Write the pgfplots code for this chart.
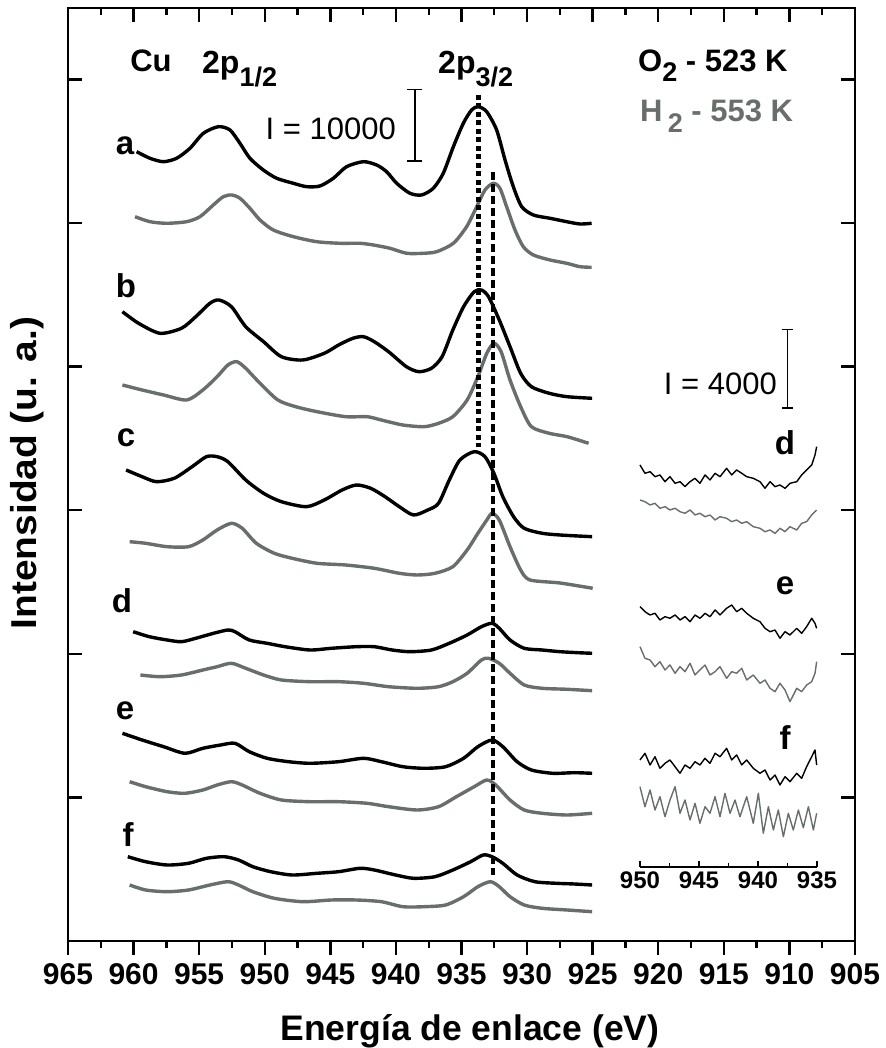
\documentclass[border=0pt]{standalone}
\usepackage{pgfplots}
\pgfplotsset{compat=1.18}
\usepackage{fontspec}
\setmainfont{Liberation Sans}
\usetikzlibrary{arrows.meta}
\definecolor{cgray}{RGB}{104,110,106}
\pgfplotsset{
  mainframe/.style={at={(68pt,107pt)}, anchor=south west, scale only axis,
    width=787pt, height=933pt, xmin=905, xmax=965, ymin=0, ymax=933, x dir=reverse,
    axis line style={line width=2.6pt}, tick style={line width=2.4pt, black},
    major tick length=14pt, minor tick length=7pt, clip=false},
  blk/.style={black, line width=3.4pt, line join=round, no marks, smooth, tension=0.45},
  gry/.style={cgray, line width=3.4pt, line join=round, no marks, smooth, tension=0.45},
  iblk/.style={black, line width=1.4pt, line join=round, no marks},
  igry/.style={cgray, line width=1.4pt, line join=round, no marks},
}
\newcommand{\bigb}{\fontsize{30}{30}\selectfont\bfseries}
\newcommand{\lab}{\fontsize{33}{33}\selectfont\bfseries}
\begin{document}
\begin{tikzpicture}[x=1pt,y=1pt]
\path[use as bounding box] (0,0) rectangle (885,1048);

% Axis A: frame and bottom ticks (outward) with labels
\begin{axis}[mainframe,
  xtick={905,910,...,965}, minor x tick num=1, xtick pos=left, tick align=outside,
  ytick=\empty,
  xticklabel style={font=\bigb, /pgf/number format/assume math mode=true, yshift=-5pt},
]
\addplot[draw=none] coordinates {(930,10)};
\end{axis}

% Axis B: top ticks and y ticks inward, data
\begin{axis}[mainframe,
  xtick={905,910,...,965}, minor x tick num=1, xtick pos=right, tick align=inside,
  ytick={143.6,287.2,430.8,574.4,718,861.6}, ytick pos=both,
  xticklabels=\empty, yticklabels=\empty,
]
% a
\addplot[blk] coordinates {(959.77,789.3)(958.75,782.7)(957.73,779.3)(956.72,782.7)(955.70,792.7)(954.68,807.7)(953.54,814.3)(952.65,811)(951.89,797.7)(951.13,782.7)(950.11,771)(949.09,762.7)(947.82,757.7)(946.80,754.3)(945.79,755)(944.77,762.7)(943.76,774.3)(942.48,779.3)(941.47,776)(940.71,769.3)(939.94,757.7)(938.93,747.7)(938.04,746)(937.15,752.7)(936.39,767.7)(935.62,794.3)(934.86,817.7)(934.23,831)(933.72,834.3)(933.08,829.3)(932.32,811)(931.68,781)(931.05,754.3)(930.41,734.3)(929.52,726)(928.25,722.7)(926.98,719.3)(925.97,717)(925.08,717.7)};
\addplot[gry] coordinates {(959.89,724.3)(958.75,719.3)(957.48,717.7)(955.95,719.3)(954.94,724.3)(953.92,736)(953.16,744.3)(952.52,746)(951.89,742.7)(951.13,732.7)(950.36,721)(949.35,711)(947.82,704.3)(946.04,699.3)(944.26,697.7)(942.74,697.7)(941.72,696)(940.45,692.7)(939.18,687.7)(937.91,687.7)(936.89,689.3)(935.62,697.7)(934.61,714.3)(933.84,734.3)(933.21,751)(932.57,757.7)(932.07,752.7)(931.56,734.3)(930.92,711)(930.29,694.3)(929.52,686)(928.25,681)(926.98,677.7)(925.97,674.3)(925.08,673.7)};
% b
\addplot[blk] coordinates {(960.85,629.3)(959.62,617.7)(957.99,607.7)(956.35,612.7)(955.26,624.3)(954.18,637.7)(953.49,641)(952.54,634.3)(951.45,614.3)(950.09,599.3)(948.73,584.3)(947.10,581)(945.46,587.7)(944.37,596)(943.28,602.7)(942.47,604.3)(941.65,599.3)(940.56,589.3)(939.20,574.3)(938.25,569.3)(937.29,572.7)(936.48,584.3)(935.66,611)(934.84,634.3)(934.03,649.3)(933.48,651)(932.94,644.3)(932.12,621)(931.30,594.3)(930.49,567.7)(929.67,554.3)(928.31,547.7)(926.95,544.3)(925.04,542.7)};
\addplot[gry] coordinates {(960.85,556)(959.35,551)(957.71,546)(955.94,541)(954.72,551)(953.63,564.3)(952.81,576)(952.13,579.3)(951.45,572.7)(950.36,557.7)(949.00,541)(947.64,534.3)(946.01,529.3)(943.83,524.3)(942.20,524.3)(941.11,521)(939.47,516)(937.84,514.3)(936.75,517.7)(935.66,524.3)(934.57,541)(933.75,564.3)(933.07,587.7)(932.53,597.7)(931.98,589.3)(931.30,561)(930.49,534.3)(929.67,514.3)(928.31,507.7)(926.95,504.3)(925.31,497.7)};
% c
\addplot[blk] coordinates {(960.57,471)(959.35,464.3)(958.26,459.3)(956.90,462.7)(955.54,474.3)(954.45,484.3)(953.63,484.3)(952.81,479.3)(951.45,461)(950.09,447.7)(948.73,439.3)(946.82,434.3)(945.46,441)(944.10,451)(943.01,456)(941.92,452.7)(940.83,444.3)(939.74,434.3)(938.66,426)(937.57,431)(936.75,437.7)(935.93,461)(935.12,481)(934.03,489.3)(933.21,484.3)(932.53,467.7)(931.85,444.3)(931.03,424.3)(930.22,412.7)(928.85,407.7)(927.49,406)(926.13,405)(925.04,404.3)};
\addplot[gry] coordinates {(960.30,399.3)(959.08,397.7)(957.44,394.3)(955.81,394.3)(954.72,401)(953.63,411)(952.54,417.7)(951.72,412.7)(950.64,397.7)(949.27,387.7)(947.91,382.7)(946.01,377.7)(943.83,376)(941.65,372.7)(939.74,367.7)(938.38,366)(937.02,367.7)(935.66,374.3)(934.57,391)(933.75,407.7)(933.07,421)(932.67,427.7)(932.12,421)(931.30,394.3)(930.49,371)(929.78,361)(927.49,358)(925.0,352.7)};
% d
\addplot[blk] coordinates {(960.03,309.3)(958.80,304.3)(957.44,301)(956.35,299.3)(955.26,302.7)(953.90,307.7)(952.81,311)(952.27,309.3)(951.18,301)(949.82,297.7)(948.46,294.3)(946.55,291)(944.92,292.7)(943.01,294.3)(941.65,294.3)(940.29,291)(938.93,289.3)(937.29,291)(935.93,297.7)(934.57,306)(933.48,314.3)(932.67,317.7)(932.12,312.7)(931.30,301)(930.22,292.7)(928.85,291)(927.49,289.3)(926.13,288.3)(925.04,287.7)};
\addplot[gry] coordinates {(959.48,266)(957.99,264.3)(956.35,266)(954.72,271)(953.63,274.3)(952.54,277.7)(951.45,272.7)(950.09,266)(948.73,261)(946.55,259.3)(944.37,259.3)(942.47,257.7)(940.56,254.3)(938.38,252.7)(936.75,254.3)(935.66,259.3)(934.57,267.7)(933.48,281)(932.94,282.7)(932.12,277.7)(931.30,267.7)(930.22,256)(928.85,252.7)(926.95,251.7)(925.04,250.3)};
% e
\addplot[blk] coordinates {(960.85,207.7)(959.35,201)(957.71,194.3)(956.08,187.7)(954.72,192.7)(953.36,196)(952.27,197.7)(951.18,189.3)(949.82,182.7)(948.19,179.3)(946.55,177.7)(944.37,179.3)(942.47,182.7)(941.11,179.3)(939.47,174.3)(937.84,172.7)(936.21,174.3)(934.84,182.7)(933.75,194.3)(932.67,201)(931.85,194.3)(930.76,179.3)(929.67,171)(928.04,167.7)(926.40,168.3)(925.04,167.7)};
\addplot[gry] coordinates {(960.30,159.3)(959.08,154.3)(957.44,149.3)(956.08,147.7)(954.72,151)(953.63,156)(952.54,159.3)(951.72,156)(950.36,147.7)(948.73,141)(946.55,139.3)(944.37,139.3)(942.20,137.7)(940.56,134.3)(938.38,131)(936.75,134.3)(935.39,144.3)(934.03,154.3)(933.07,161)(932.39,156)(931.30,141)(930.22,131)(928.85,127.7)(926.95,126)(925.04,127.7)};
% f
\addplot[blk] coordinates {(960.44,84.3)(959.08,79.3)(957.44,76)(955.81,77.7)(954.45,82.7)(953.09,84.3)(952.00,81)(950.91,74.3)(949.55,69.3)(947.91,66)(946.01,67.7)(944.37,69.3)(942.74,72.7)(941.65,71)(940.02,66)(938.66,62.7)(937.02,64.3)(935.66,71)(934.30,79.3)(933.35,86)(932.67,84.3)(931.85,77.7)(930.76,66)(929.40,59.3)(927.76,57.7)(926.40,57)(925.04,56)};
\addplot[gry] coordinates {(960.30,56)(959.08,51)(957.44,49.3)(955.81,51)(954.18,56)(952.81,59.3)(952.00,56)(950.91,49.3)(949.27,42.7)(947.10,39.3)(944.92,41)(943.01,41)(941.11,39.3)(939.47,34.3)(937.84,34.3)(936.21,36)(934.84,44.3)(933.75,54.3)(932.80,59.3)(932.12,54.3)(931.30,44.3)(930.22,36)(928.85,32.7)(926.95,31)(925.04,29.3)};
% peak position lines
\addplot[black, line width=4.5pt, dash pattern=on 5pt off 3.5pt, no marks] coordinates {(933.72,846)(933.72,494)};
\addplot[black, line width=4.5pt, dash pattern=on 8pt off 4pt, no marks] coordinates {(932.58,769)(932.58,66)};
% scale bar
\draw[line width=1.5pt, {Bar[width=15pt]}-{Bar[width=15pt]}] (axis cs:938.55,779) -- (axis cs:938.55,852);
\end{axis}

% inset
\begin{axis}[at={(640pt,181pt)}, anchor=south west, scale only axis, width=177pt, height=447pt,
  xmin=935, xmax=950, ymin=0, ymax=447, x dir=reverse,
  axis x line*=bottom, axis y line=none, axis line style={-, line width=1.3pt},
  xtick={935,940,945,950}, minor x tick num=1, tick align=inside,
  tick style={line width=1.3pt, black}, major tick length=6pt, minor tick length=3.5pt,
  xticklabel style={font=\fontsize{24}{24}\selectfont\bfseries, /pgf/number format/assume math mode=true, yshift=-1pt},
  clip=false]
\addplot[iblk] coordinates {(950.00,402)(949.58,393.7)(949.15,395.3)(948.73,390.3)(948.31,392)(947.88,385.3)(947.46,390.3)(947.03,383.7)(946.61,385.3)(946.19,380.3)(945.76,385.3)(945.34,388.7)(944.92,383.7)(944.49,392)(944.07,387)(943.64,393.7)(943.22,390.3)(942.66,398.7)(942.23,392)(941.81,397)(941.38,393.7)(940.96,390.3)(940.40,388.7)(939.83,385.3)(939.41,378.7)(938.98,385.3)(938.56,380.3)(938.14,382)(937.71,378.7)(937.29,383.7)(936.72,385.3)(936.30,392)(935.88,397)(935.45,402)(935.17,412)(935.03,420.3)};
\addplot[igry] coordinates {(950.00,367)(949.58,365.3)(949.15,362)(948.73,363.7)(948.31,358.7)(947.88,360.3)(947.46,357)(947.03,358.7)(946.61,355.3)(946.19,353.7)(945.76,357)(945.34,352)(944.92,353.7)(944.49,350.3)(944.07,352)(943.64,347)(943.22,350.3)(942.66,348.7)(942.23,345.3)(941.81,347)(941.38,343.7)(940.96,345.3)(940.40,340.3)(939.83,338.7)(939.41,335.3)(938.98,337)(938.56,333.7)(938.14,338.7)(937.71,335.3)(937.29,340.3)(936.72,337)(936.30,343.7)(935.88,345.3)(935.45,352)(935.17,355.3)(935.03,357)};
\addplot[iblk] coordinates {(950.00,260.3)(949.58,255.3)(949.15,252)(948.73,253.7)(948.31,247)(947.88,250.3)(947.46,248.7)(947.03,252)(946.61,247)(946.19,250.3)(945.76,245.3)(945.34,252)(944.92,248.7)(944.49,253.7)(944.07,250.3)(943.64,257)(943.22,252)(942.66,258.7)(942.23,262)(941.81,255.3)(941.38,258.7)(940.96,253.7)(940.40,248.7)(939.83,245.3)(939.41,238.7)(938.98,235.3)(938.56,237)(938.14,228.7)(937.71,235.3)(937.29,232)(936.72,238.7)(936.30,233.7)(935.88,240.3)(935.45,248.7)(935.17,243.7)(935.03,238.7)};
\addplot[igry] coordinates {(950.00,220.3)(949.58,208.7)(949.15,207)(948.73,200.3)(948.31,205.3)(947.88,197)(947.46,202)(947.03,193.7)(946.61,200.3)(946.19,195.3)(945.76,203.7)(945.34,192)(944.92,197)(944.49,202)(944.07,192)(943.64,195.3)(943.22,200.3)(942.66,188.7)(942.23,195.3)(941.81,193.7)(941.38,198.7)(940.96,187)(940.40,192)(939.83,183.7)(939.41,187)(938.98,178.7)(938.56,175.3)(938.14,183.7)(937.71,177)(937.29,165.3)(936.72,178.7)(936.30,175.3)(935.88,182)(935.45,185.3)(935.17,193.7)(935.03,205.3)};
\addplot[iblk] coordinates {(950.00,107)(949.58,113.7)(949.15,102)(948.73,110.3)(948.31,98.7)(947.88,103.7)(947.46,107)(947.03,100.3)(946.61,93.7)(946.19,102)(945.76,98.7)(945.34,105.3)(944.92,102)(944.49,108.7)(944.07,103.7)(943.64,113.7)(943.22,110.3)(942.66,118.7)(942.23,107)(941.81,112)(941.38,102)(940.96,107)(940.40,98.7)(939.83,93.7)(939.41,97)(938.98,87)(938.56,92)(938.14,82)(937.71,90.3)(937.29,85.3)(936.72,93.7)(936.30,88.7)(935.88,100.3)(935.45,110.3)(935.17,117)(935.03,102)};
\addplot[igry] coordinates {(950.00,80.3)(949.58,60.3)(949.15,77)(948.73,57)(948.31,70.3)(947.88,50.3)(947.46,67)(947.03,80.3)(946.61,53.7)(946.19,67)(945.76,47)(945.34,63.7)(944.92,43.7)(944.49,60.3)(944.07,53.7)(943.64,70.3)(943.22,50.3)(942.80,73.7)(942.37,53.7)(941.95,67)(941.53,50.3)(940.96,70.3)(940.40,43.7)(939.97,73.7)(939.55,33.7)(939.12,60.3)(938.70,37)(938.28,57)(937.85,30.3)(937.43,53.7)(937.01,37)(936.58,57)(936.16,39.3)(935.73,60.3)(935.31,37)(935.03,53.7)};
\draw[line width=1.5pt, {Bar[width=11pt]}-{Bar[width=11pt]}] (axis cs:937.51,458) -- (axis cs:937.51,538);
\end{axis}

% texts (absolute, pixel-based positions)
\node[anchor=base, inner sep=0pt, font=\fontsize{35.5}{35.5}\selectfont\bfseries] at (470,8) {Energía de enlace (eV)};
\node[anchor=base, inner sep=0pt, rotate=90, font=\fontsize{36}{36}\selectfont\bfseries] at (36,575) {\scalebox{1.08}[1]{Intensidad (u. a.)}};
\node[anchor=base, inner sep=0pt, font=\fontsize{31}{31}\selectfont\bfseries] at (151,976) {Cu};
\node[anchor=base west, inner sep=0pt, font=\fontsize{32}{32}\selectfont\bfseries] at (202,974) {2p\raisebox{-13pt}{\fontsize{27}{27}\selectfont 1/2}};
\node[anchor=base west, inner sep=0pt, font=\fontsize{32}{32}\selectfont\bfseries] at (438,974) {2p\raisebox{-13pt}{\fontsize{27}{27}\selectfont 3/2}};
\node[anchor=base west, inner sep=0pt, font=\fontsize{31}{31}\selectfont\bfseries] at (638,976) {O\raisebox{-10pt}{\fontsize{27}{27}\selectfont 2} - 523 K};
\node[anchor=base west, inner sep=0pt, font=\fontsize{31}{31}\selectfont\bfseries, text=cgray] at (640,926) {H\,\raisebox{-11pt}{\fontsize{27}{27}\selectfont 2} - 553 K};
\node[anchor=base east, inner sep=0pt, font=\fontsize{31}{31}\selectfont] at (396,908) {I = 10000};
\node[anchor=base east, inner sep=0pt, font=\fontsize{31}{31}\selectfont] at (777,653) {I = 4000};
\node[anchor=base, inner sep=0pt, font=\lab] at (125,893) {a};
\node[anchor=base, inner sep=0pt, font=\lab] at (126,750) {b};
\node[anchor=base, inner sep=0pt, font=\lab] at (126,601) {c};
\node[anchor=base, inner sep=0pt, font=\lab] at (122,435) {d};
\node[anchor=base, inner sep=0pt, font=\lab] at (125,328) {e};
\node[anchor=base, inner sep=0pt, font=\lab] at (128,201) {f};
\node[anchor=base, inner sep=0pt, font=\lab] at (785,593) {d};
\node[anchor=base, inner sep=0pt, font=\lab] at (785,453) {e};
\node[anchor=base, inner sep=0pt, font=\lab] at (785,298) {f};
\end{tikzpicture}
\end{document}
